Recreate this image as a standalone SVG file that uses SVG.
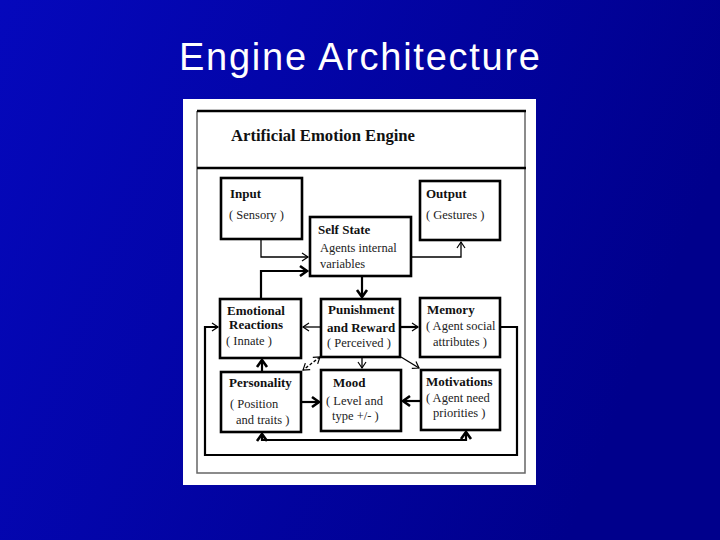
<svg xmlns="http://www.w3.org/2000/svg" width="720" height="540" viewBox="0 0 720 540">
<defs>
<linearGradient id="bg" x1="0" y1="0" x2="1" y2="0.3">
<stop offset="0" stop-color="#0508bc"/>
<stop offset="1" stop-color="#00008c"/>
</linearGradient>
<marker id="a" markerUnits="userSpaceOnUse" markerWidth="12" markerHeight="12" refX="8" refY="5" orient="auto-start-reverse" overflow="visible">
<path d="M2,1 L8,5 L2,9" fill="none" stroke="#000" stroke-width="1.2"/>
</marker>
<marker id="b" markerUnits="userSpaceOnUse" markerWidth="14" markerHeight="14" refX="8" refY="6" orient="auto-start-reverse" overflow="visible">
<path d="M1,1 L8,6 L1,11" fill="none" stroke="#000" stroke-width="2.6"/>
</marker>
</defs>
<style>
.box{fill:#fff;stroke:#000;stroke-width:2.6}
.h{font-family:"Liberation Serif",serif;font-weight:bold;font-size:13px;fill:#111}
.t{font-family:"Liberation Serif",serif;font-size:12.5px;fill:#222}
.c{fill:none;stroke:#000;stroke-width:1.3}
.k{fill:none;stroke:#000;stroke-width:2.2}
</style>
<rect width="720" height="540" fill="url(#bg)"/>
<text x="179" y="70" font-family="Liberation Sans, Arial, sans-serif" font-size="38" fill="#fff" textLength="361" lengthAdjust="spacing">Engine Architecture</text>
<g id="panel">
<rect x="183" y="99" width="353" height="386" fill="#fff"/>
<path d="M197,111 V473 H525 V111" fill="none" stroke="#666" stroke-width="1.5"/>
<line x1="197" y1="111" x2="526" y2="111" stroke="#000" stroke-width="2.5"/>
<line x1="197" y1="168" x2="526" y2="168" stroke="#000" stroke-width="2.5"/>
<text x="231" y="141" font-family="Liberation Serif, serif" font-weight="bold" font-size="16" fill="#111" textLength="184" lengthAdjust="spacingAndGlyphs">Artificial Emotion Engine</text>
</g>
<g id="input"><rect class="box" x="221" y="178" width="81" height="61"/><text class="h" x="230" y="198">Input</text><text class="t" x="229" y="219">( Sensory )</text></g>
<g id="output"><rect class="box" x="420" y="181" width="80" height="59"/><text class="h" x="426" y="198">Output</text><text class="t" x="426" y="219">( Gestures )</text></g>
<g id="self-state"><rect class="box" x="310" y="217" width="101" height="59"/><text class="h" x="318" y="234">Self State</text><text class="t" x="320" y="252">Agents internal</text><text class="t" x="320" y="268">variables</text></g>
<g id="emotional-reactions"><rect class="box" x="220" y="299" width="81" height="59"/><text class="h" x="227" y="315">Emotional</text><text class="h" x="229" y="329">Reactions</text><text class="t" x="226" y="345">( Innate )</text></g>
<g id="punishment-reward"><rect class="box" x="321" y="299" width="79" height="58"/><text class="h" x="328" y="314">Punishment</text><text class="h" x="327" y="332">and Reward</text><text class="t" x="327" y="347">( Perceived )</text></g>
<g id="memory"><rect class="box" x="420" y="298" width="80" height="59"/><text class="h" x="427" y="314">Memory</text><text class="t" x="426" y="330">( Agent social</text><text class="t" x="433" y="346">attributes )</text></g>
<g id="personality"><rect class="box" x="221" y="372" width="80" height="60"/><text class="h" x="229" y="387">Personality</text><text class="t" x="230" y="408">( Position</text><text class="t" x="236" y="424">and traits )</text></g>
<g id="mood"><rect class="box" x="321" y="370" width="80" height="61"/><text class="h" x="333" y="387">Mood</text><text class="t" x="326" y="405">( Level and</text><text class="t" x="332" y="420">type +/- )</text></g>
<g id="motivations"><rect class="box" x="421" y="370" width="79" height="60"/><text class="h" x="426" y="386">Motivations</text><text class="t" x="426" y="402">( Agent need</text><text class="t" x="433" y="417">priorities )</text></g>
<g id="connectors">
<path class="c" d="M261,240 V257 H308" marker-end="url(#a)"/>
<path class="k" d="M261,298 V271 H307" marker-end="url(#b)"/>
<path class="c" d="M412,257 H461 V242" marker-end="url(#a)"/>
<path class="k" d="M362,277 V297" marker-end="url(#b)"/>
<path class="c" d="M320,327 H303" marker-end="url(#a)"/>
<path class="k" d="M401,327 H418" marker-end="url(#a)"/>
<path class="c" d="M320,357 L303,370" stroke-dasharray="3,2" marker-start="url(#a)" marker-end="url(#a)"/>
<path class="c" d="M362,358 V368" marker-end="url(#a)"/>
<path class="c" d="M401,357 L419,368" marker-end="url(#a)"/>
<path class="k" d="M262,371 V360" marker-end="url(#b)"/>
<path class="k" d="M302,402 H319" stroke-width="3" marker-end="url(#b)"/>
<path class="k" d="M420,401 H403" marker-end="url(#b)"/>
<path class="k" d="M262,434 V440 H466 V432" marker-start="url(#b)" marker-end="url(#b)"/>
<path class="k" d="M501,327 H517 V455 H205 V327 H218" marker-end="url(#a)"/>
</g>
</svg>
